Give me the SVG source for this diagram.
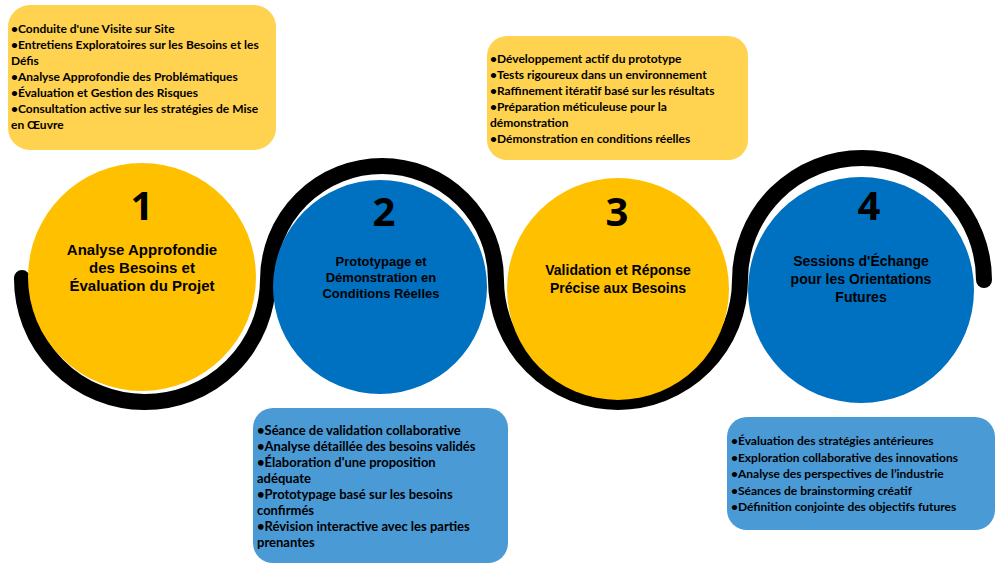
<svg xmlns="http://www.w3.org/2000/svg" width="1000" height="571" viewBox="0 0 1000 571">
<style>
.by{fill:#FFD24F}.bb{fill:#4A9AD6}
.t{font-family:Lato,"Open Sans",sans-serif;font-weight:bold;font-size:12px;fill:#000}
.tb{font-size:13px}
.h{font-family:"Liberation Sans",Arial,sans-serif;font-weight:bold;fill:#000;text-anchor:middle}
.n{font-family:"Open Sans",sans-serif;font-weight:bold;font-size:40px;fill:#000;text-anchor:middle}
</style>
<rect width="1000" height="571" fill="#fff"/>
<g id="connectors">
<path d="M22,278 A123,123 0 0 0 268,280 A114,114 0 0 1 496,280 A122,122 0 0 0 740,280 A122,122 0 0 1 984,280" fill="none" stroke="#000" stroke-width="16" stroke-linecap="round"/>
</g>
<g id="node1">
<circle cx="142" cy="277" r="114" fill="#FFC000"/>
<text class="n" x="142" y="220">1</text>
<text class="h" font-size="15" x="142" y="255">Analyse Approfondie</text>
<text class="h" font-size="15" x="142" y="273">des Besoins et</text>
<text class="h" font-size="15" x="142" y="291">Évaluation du Projet</text>
</g>
<g id="node2">
<circle cx="380" cy="287" r="107" fill="#0070C0"/>
<text class="n" x="384" y="226">2</text>
<text class="h" font-size="13" x="381" y="266">Prototypage et</text>
<text class="h" font-size="13" x="381" y="282">Démonstration en</text>
<text class="h" font-size="13" x="381" y="298">Conditions Réelles</text>
</g>
<g id="node3">
<circle cx="618" cy="289" r="111" fill="#FFC000"/>
<text class="n" x="617" y="226">3</text>
<text class="h" font-size="14" x="618" y="275">Validation et Réponse</text>
<text class="h" font-size="14" x="618" y="293">Précise aux Besoins</text>
</g>
<g id="node4">
<circle cx="861" cy="290" r="113" fill="#0070C0"/>
<text class="n" x="869" y="220">4</text>
<text class="h" font-size="14" x="861" y="266">Sessions d'Échange</text>
<text class="h" font-size="14" x="861" y="284">pour les Orientations</text>
<text class="h" font-size="14" x="861" y="302">Futures</text>
</g>
<g id="box1">
<rect class="by" x="8" y="5" width="268" height="145" rx="22"/>
<text class="t" x="11"><tspan x="11" y="33">•Conduite d'une Visite sur Site</tspan><tspan x="11" y="49">•Entretiens Exploratoires sur les Besoins et les</tspan><tspan x="11" y="65">Défis</tspan><tspan x="11" y="81">•Analyse Approfondie des Problématiques</tspan><tspan x="11" y="97">•Évaluation et Gestion des Risques</tspan><tspan x="11" y="113">•Consultation active sur les stratégies de Mise</tspan><tspan x="11" y="129">en Œuvre</tspan></text>
</g>
<g id="box2">
<rect class="by" x="487" y="36" width="261" height="124" rx="20"/>
<text class="t"><tspan x="490" y="63">•Développement actif du prototype</tspan><tspan x="490" y="79">•Tests rigoureux dans un environnement</tspan><tspan x="490" y="95">•Raffinement itératif basé sur les résultats</tspan><tspan x="490" y="111">•Préparation méticuleuse pour la</tspan><tspan x="490" y="127">démonstration</tspan><tspan x="490" y="143">•Démonstration en conditions réelles</tspan></text>
</g>
<g id="box3">
<rect class="bb" x="253" y="408" width="255" height="155" rx="20"/>
<text class="t tb"><tspan x="257" y="435">•Séance de validation collaborative</tspan><tspan x="257" y="451">•Analyse détaillée des besoins validés</tspan><tspan x="257" y="467">•Élaboration d'une proposition</tspan><tspan x="257" y="483">adéquate</tspan><tspan x="257" y="499">•Prototypage basé sur les besoins</tspan><tspan x="257" y="515">confirmés</tspan><tspan x="257" y="531">•Révision interactive avec les parties</tspan><tspan x="257" y="547">prenantes</tspan></text>
</g>
<g id="box4">
<rect class="bb" x="727" y="417" width="268" height="113" rx="20"/>
<text class="t"><tspan x="731" y="445">•Évaluation des stratégies antérieures</tspan><tspan x="731" y="462">•Exploration collaborative des innovations</tspan><tspan x="731" y="478">•Analyse des perspectives de l’industrie</tspan><tspan x="731" y="495">•Séances de brainstorming créatif</tspan><tspan x="731" y="511">•Définition conjointe des objectifs futures</tspan></text>
</g>
</svg>
